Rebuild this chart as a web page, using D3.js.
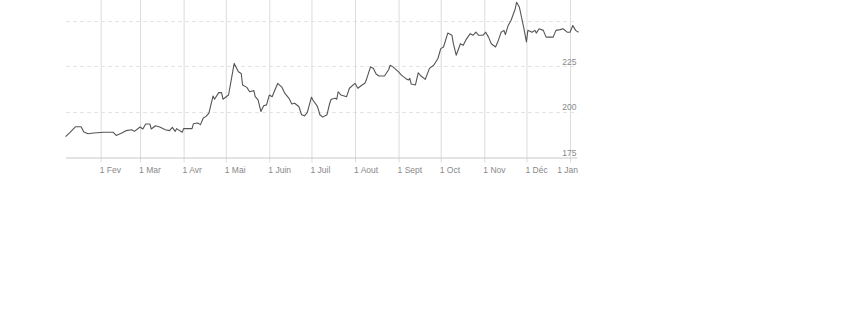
<!DOCTYPE html>
<html>
<head>
<meta charset="utf-8">
<script src="https://cdn.jsdelivr.net/npm/d3@7"></script>
<style>
  body { margin: 0; background: #fff; }
  svg { display: block; font-family: "Open Sans", sans-serif; }
</style>
</head>
<body>
<svg></svg>
<script>
// values
const dates = [
  "2017-01-07","2017-01-10","2017-01-14","2017-01-18","2017-01-20","2017-01-23","2017-01-27",
  "2017-02-03","2017-02-10","2017-02-12","2017-02-16","2017-02-19","2017-02-23","2017-02-25",
  "2017-03-01","2017-03-03","2017-03-05","2017-03-08","2017-03-09","2017-03-12","2017-03-15",
  "2017-03-19","2017-03-22","2017-03-24","2017-03-26","2017-03-27","2017-03-31",
  "2017-04-01","2017-04-07","2017-04-08","2017-04-11","2017-04-13","2017-04-15","2017-04-17",
  "2017-04-19","2017-04-22","2017-04-23","2017-04-26","2017-04-28","2017-04-29",
  "2017-05-03","2017-05-07","2017-05-10","2017-05-12","2017-05-13","2017-05-16","2017-05-18",
  "2017-05-21","2017-05-22","2017-05-24","2017-05-26","2017-05-28","2017-05-30",
  "2017-06-01","2017-06-03","2017-06-07","2017-06-10","2017-06-12","2017-06-15","2017-06-17",
  "2017-06-19","2017-06-22","2017-06-24","2017-06-26","2017-06-28",
  "2017-07-01","2017-07-02","2017-07-05","2017-07-06","2017-07-07","2017-07-09","2017-07-12",
  "2017-07-14","2017-07-15","2017-07-18","2017-07-19","2017-07-20","2017-07-22","2017-07-26","2017-07-28",
  "2017-08-01","2017-08-03","2017-08-06","2017-08-08","2017-08-09","2017-08-12","2017-08-14",
  "2017-08-16","2017-08-18","2017-08-22","2017-08-25","2017-08-26","2017-08-28",
  "2017-09-01","2017-09-03","2017-09-06","2017-09-08","2017-09-09","2017-09-10","2017-09-13",
  "2017-09-15","2017-09-17","2017-09-20","2017-09-23","2017-09-26","2017-09-29",
  "2017-10-01","2017-10-03","2017-10-06","2017-10-09","2017-10-10","2017-10-12","2017-10-15",
  "2017-10-17","2017-10-19","2017-10-22","2017-10-24","2017-10-26","2017-10-28","2017-10-31",
  "2017-11-02","2017-11-04","2017-11-06","2017-11-09","2017-11-11","2017-11-13","2017-11-15",
  "2017-11-16","2017-11-18","2017-11-20","2017-11-23","2017-11-24","2017-11-26","2017-11-28","2017-11-29",
  "2017-12-01","2017-12-02","2017-12-05","2017-12-07","2017-12-08","2017-12-10","2017-12-13",
  "2017-12-15","2017-12-20","2017-12-22","2017-12-25","2017-12-27","2017-12-30",
  "2018-01-01","2018-01-03","2018-01-05","2018-01-07"
];
const prices = [
  186.4,188.6,191.8,191.8,189.0,188.0,188.4,
  188.8,188.8,187.1,188.4,189.7,190.2,189.3,
  191.7,190.6,193.3,193.3,190.6,192.4,191.7,
  190.2,189.7,191.5,189.3,190.8,188.8,
  190.8,190.8,193.5,193.9,193.0,196.6,197.5,
  199.3,208.7,206.9,210.5,210.5,206.9,
  209.2,226.5,221.9,221.0,214.7,213.4,211.0,
  211.6,208.3,206.5,200.2,203.3,203.8,
  209.2,208.3,215.6,213.4,210.2,207.4,204.3,
  204.7,202.9,198.4,197.8,199.6,
  208.0,206.5,203.3,201.1,198.4,197.1,198.4,
  204.7,206.9,207.4,206.9,211.0,209.2,208.3,212.9,
  215.6,212.9,214.7,215.6,217.4,224.6,223.8,
  220.7,219.6,219.6,223.2,225.5,224.6,
  221.9,220.1,218.3,217.4,218.3,215.2,214.7,
  221.4,219.6,217.8,223.8,225.5,229.2,
  234.6,235.5,243.1,241.9,237.3,231.0,237.3,
  236.4,239.5,242.8,241.9,243.6,241.9,241.9,
  243.6,240.9,237.3,235.5,239.1,243.6,244.6,
  242.3,247.3,250.0,256.3,260.0,257.2,250.0,246.4,
  238.3,244.6,243.6,244.6,243.1,245.5,244.6,
  240.9,240.9,244.6,245.0,245.5,243.6,
  243.6,247.3,244.6,243.6
];
const tickDates = ["2017-02-01","2017-03-01","2017-04-01","2017-05-01","2017-06-01","2017-07-01",
  "2017-08-01","2017-09-01","2017-10-01","2017-11-01","2017-12-01","2018-01-01"];
const tickLabels = ["1 Fev","1 Mar","1 Avr","1 Mai","1 Juin","1 Juil","1 Aout","1 Sept","1 Oct","1 Nov","1 Déc","1 Jan"];
const gridValues = [200, 225, 250];
const yLabels = [175, 200, 225];

let width = 845;
let height = 321;
let plotLeft = 66, plotRight = 577.5, plotBottom = 157.5;

let svg = d3.select("svg").attr("width", width).attr("height", height);
let parse = d3.timeParse("%Y-%m-%d");

let data = dates.map((d, i) => ({ date: parse(d), value: prices[i] }));

let xScale = d3.scaleTime()
  .domain([parse("2017-02-01"), parse("2018-01-01")])
  .range([100.7, 570]);

let yScale = d3.scaleLinear()
  .domain([175, 250])
  .range([plotBottom, 20.5]);

// horizontal dashed grid
svg.append("g")
  .selectAll("line")
  .data(gridValues)
  .enter()
  .append("line")
  .attr("x1", plotLeft)
  .attr("x2", plotRight)
  .attr("y1", (d) => Math.round(yScale(d)) + 0.5)
  .attr("y2", (d) => Math.round(yScale(d)) + 0.5)
  .attr("stroke", "#e4e4e4")
  .attr("stroke-dasharray", "4,3");

// x axis with vertical grid lines
let xAxis = d3.axisBottom(xScale)
  .tickValues(tickDates.map(parse))
  .tickFormat((d, i) => tickLabels[i])
  .tickSize(plotBottom + 5)
  .tickSizeOuter(0)
  .tickPadding(4);

let gx = svg.append("g")
  .attr("id", "x-axis")
  .call(xAxis);
gx.select(".domain").remove();
gx.selectAll(".tick line").attr("stroke", "#dcdcdc");
gx.selectAll(".tick text")
  .attr("fill", "#888")
  .attr("text-anchor", "start")
  .attr("x", -1.5)
  .style("font-size", "8.5px");

// last label is pushed back inside the plot
gx.selectAll(".tick text").each(function (d) {
  let w = this.getComputedTextLength();
  let x0 = xScale(d) - 1.5;
  if (x0 + w > plotRight) {
    d3.select(this).attr("x", plotRight - w - xScale(d));
  }
});

// baseline
svg.append("line")
  .attr("x1", plotLeft)
  .attr("x2", plotRight)
  .attr("y1", plotBottom + 0.5)
  .attr("y2", plotBottom + 0.5)
  .attr("stroke", "#c8c8c8");

// y labels inside the plot, right side
let yAxis = d3.axisLeft(yScale)
  .tickValues(yLabels)
  .tickSize(0)
  .tickPadding(0);
let gy = svg.append("g")
  .attr("id", "y-axis")
  .attr("transform", "translate(" + (plotRight - 1) + ",0)")
  .call(yAxis);
gy.select(".domain").remove();
gy.selectAll(".tick text")
  .attr("fill", "#888")
  .attr("dy", "-0.25em")
  .style("font-size", "8.5px");

// price line
let line = d3.line()
  .x((d) => xScale(d.date))
  .y((d) => yScale(d.value));

svg.append("path")
  .datum(data)
  .attr("fill", "none")
  .attr("stroke", "#555")
  .attr("stroke-width", 1.1)
  .attr("stroke-linejoin", "round")
  .attr("d", line);
</script>
</body>
</html>
